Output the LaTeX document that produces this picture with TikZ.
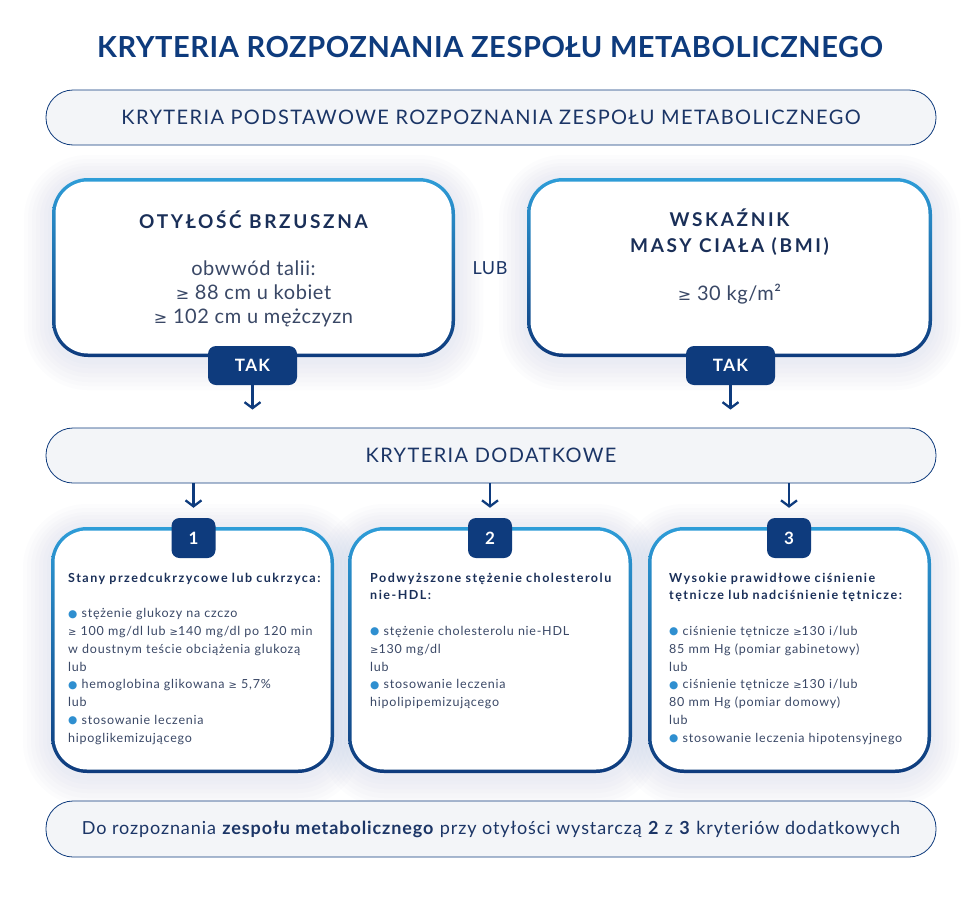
\documentclass[tikz,border=0pt]{standalone}
\usepackage{fontspec}
\setmainfont{Lato}
\newfontfamily\titlefont[LetterSpace=2]{Lato}
\newfontfamily\barfont[LetterSpace=7]{Lato}
\newfontfamily\notefont[LetterSpace=5]{Lato}
\newfontfamily\hfont[LetterSpace=14]{Lato}
\newfontfamily\tagfont[LetterSpace=8]{Lato}
\newfontfamily\shfont[LetterSpace=12]{Lato}
\newfontfamily\bigfont[LetterSpace=3]{Lato}
\newfontfamily\bodyfont[LetterSpace=6]{Lato}
\newfontfamily\dejavu{DejaVu Sans}
\usetikzlibrary{arrows.meta}
\definecolor{navy}{HTML}{0E3B7D}
\definecolor{lblue}{HTML}{2E9DD8}
\definecolor{txt}{HTML}{3A4866}
\definecolor{headtxt}{HTML}{1A2F58}
\definecolor{barfill}{HTML}{F3F5F8}
\definecolor{bartxt}{HTML}{1B3566}
\definecolor{bul}{HTML}{2F8FD0}
\definecolor{glowc}{HTML}{6A8CC4}
\newcommand\gee{{\dejavu\scalebox{0.8}{≥}}}
\newcommand\mybul{{\color{bul}\raisebox{0.6pt}{\dejavu\scalebox{0.85}{●}}}}
\begin{document}
\begin{tikzpicture}[x=1pt,y=-1pt,
  pill/.style={draw=navy, line width=0.8pt, fill=barfill, rounded corners=27pt,
    minimum width=890pt, minimum height=55pt, inner sep=0pt, text=bartxt,
    font=\barfont\fontsize{20}{20}\selectfont},
  glow/.style={
    preaction={draw=glowc, draw opacity=0.02, line width=56pt, transform canvas={yshift=-5pt}},
    preaction={draw=glowc, draw opacity=0.02, line width=48pt, transform canvas={yshift=-5pt}},
    preaction={draw=glowc, draw opacity=0.02, line width=40pt, transform canvas={yshift=-5pt}},
    preaction={draw=glowc, draw opacity=0.02, line width=32pt, transform canvas={yshift=-4pt}},
    preaction={draw=glowc, draw opacity=0.02, line width=24pt, transform canvas={yshift=-4pt}},
    preaction={draw=glowc, draw opacity=0.02, line width=16pt, transform canvas={yshift=-3pt}},
    preaction={draw=glowc, draw opacity=0.02, line width=8pt, transform canvas={yshift=-3pt}}},
  gbox/.style={rectangle, rounded corners=36pt, top color=lblue, bottom color=navy,
    draw=none, inner sep=0pt},
  wbox/.style={rectangle, rounded corners=32.5pt, fill=white, draw=none, inner sep=0pt},
  tag/.style={rectangle, fill=navy, rounded corners=8pt, text=white, inner sep=0pt,
    font=\tagfont\bfseries\fontsize{17}{17}\selectfont},
  bighead/.style={text=headtxt, align=center, font=\hfont\bfseries\fontsize{19}{26}\selectfont},
  bigbody/.style={text=txt, align=center, font=\bigfont\fontsize{20}{24}\selectfont},
  smalltext/.style={text=txt, align=left, anchor=base west, inner sep=0pt, text width=262pt,
    font=\bodyfont\fontsize{12.5}{17.8}\selectfont},
  arr/.style={draw=navy, line width=2.3pt, -{Straight Barb[length=6pt,width=16pt]}}
]
\fill[white] (0,0) rectangle (980,897);
\useasboundingbox (0,0) rectangle (980,897);

\node[text=navy, font=\titlefont\bfseries\fontsize{29}{29}\selectfont] (title) at (490,47)
  {KRYTERIA ROZPOZNANIA ZESPOŁU METABOLICZNEGO};

\node[pill] (bar1) at (491,117.5) {KRYTERIA PODSTAWOWE ROZPOZNANIA ZESPOŁU METABOLICZNEGO};

% glow behind boxes
\path[glow, rounded corners=36pt] (52,178) rectangle (455,357);
\path[glow, rounded corners=36pt] (527,178) rectangle (932,357);
\path[glow, rounded corners=36pt] (51,527) rectangle (334,773);
\path[glow, rounded corners=36pt] (348,527) rectangle (632,773);
\path[glow, rounded corners=36pt] (648,527) rectangle (931,773);

% upper boxes
\node[gbox, minimum width=403pt, minimum height=179pt] (boxL) at (253.5,267.5) {};
\node[wbox, minimum width=396pt, minimum height=172pt] (boxLin) at (boxL.center) {};
\node[bighead] (headL) at (253.5,220) {OTYŁOŚĆ BRZUSZNA};
\node[bigbody] (bodyL) at (253.5,294) {obwwód talii:\\ \gee\ 88 cm u kobiet\\ \gee\ 102 cm u mężczyzn};

\node[gbox, minimum width=405pt, minimum height=179pt] (boxR) at (729.5,267.5) {};
\node[wbox, minimum width=398pt, minimum height=172pt] (boxRin) at (boxR.center) {};
\node[bighead] (headR) at (729.5,232) {WSKAŹNIK\\MASY CIAŁA (BMI)};
\node[bigbody] (bodyR) at (729.5,294) {\gee\ 30 kg/m²};

\node[text=bartxt, font=\bigfont\fontsize{18}{18}\selectfont] (lub) at (490,268) {LUB};

\node[tag, minimum width=89pt, minimum height=39pt] (takL) at (252.5,365.5) {TAK};
\node[tag, minimum width=89pt, minimum height=39pt] (takR) at (730.5,365.5) {TAK};

\node[pill] (bar2) at (491,455.5) {KRYTERIA DODATKOWE};

\draw[arr, shorten >=18pt] (takL.south) -- (takL.south |- bar2.north);
\draw[arr, shorten >=18pt] (takR.south) -- (takR.south |- bar2.north);

% lower boxes
\node[gbox, minimum width=283pt, minimum height=246pt] (b1) at (192.5,650) {};
\node[wbox, minimum width=276pt, minimum height=239pt] (b1in) at (b1.center) {};
\node[gbox, minimum width=284pt, minimum height=246pt] (b2) at (490,650) {};
\node[wbox, minimum width=277pt, minimum height=239pt] (b2in) at (b2.center) {};
\node[gbox, minimum width=283pt, minimum height=246pt] (b3) at (789.5,650) {};
\node[wbox, minimum width=276pt, minimum height=239pt] (b3in) at (b3.center) {};

\node[tag, minimum width=44pt, minimum height=40pt] (t1) at (193.5,538) {1};
\node[tag, minimum width=44pt, minimum height=40pt] (t2) at (490,538) {2};
\node[tag, minimum width=44pt, minimum height=40pt] (t3) at (789,538) {3};

\draw[arr, shorten >=10pt] (bar2.south -| t1.center) -- (t1.north);
\draw[arr, shorten >=10pt] (bar2.south -| t2.center) -- (t2.north);
\draw[arr, shorten >=10pt] (bar2.south -| t3.center) -- (t3.north);

\node[smalltext] (x1) at (68,582) {{\shfont\bfseries\color{headtxt}Stany przedcukrzycowe lub cukrzyca:}\\[17.8pt]
\mybul\ stężenie glukozy na czczo\\
\gee\ 100 mg/dl lub \gee140 mg/dl po 120 min\\
w doustnym teście obciążenia glukozą\\
lub\\
\mybul\ hemoglobina glikowana \gee\ 5,7\%\\
lub\\
\mybul\ stosowanie leczenia\\
hipoglikemizującego};

\node[smalltext] (x2) at (370,582) {{\shfont\bfseries\color{headtxt}Podwyższone stężenie cholesterolu\\ nie-HDL:}\\[17.8pt]
\mybul\ stężenie cholesterolu nie-HDL\\
\gee130 mg/dl\\
lub\\
\mybul\ stosowanie leczenia\\
hipolipipemizującego};

\node[smalltext] (x3) at (669,582) {{\shfont\bfseries\color{headtxt}Wysokie prawidłowe ciśnienie\\ tętnicze lub nadciśnienie tętnicze:}\\[17.8pt]
\mybul\ ciśnienie tętnicze \gee130 i/lub\\
85 mm Hg (pomiar gabinetowy)\\
lub\\
\mybul\ ciśnienie tętnicze \gee130 i/lub\\
80 mm Hg (pomiar domowy)\\
lub\\
\mybul\ stosowanie leczenia hipotensyjnego};

\node[pill, minimum height=56pt, font=\notefont\fontsize{18}{18}\selectfont] (bar3) at (491,829)
  {Do rozpoznania \textbf{zespołu metabolicznego} przy otyłości wystarczą \textbf{2} z \textbf{3} kryteriów dodatkowych};
\end{tikzpicture}
\end{document}
